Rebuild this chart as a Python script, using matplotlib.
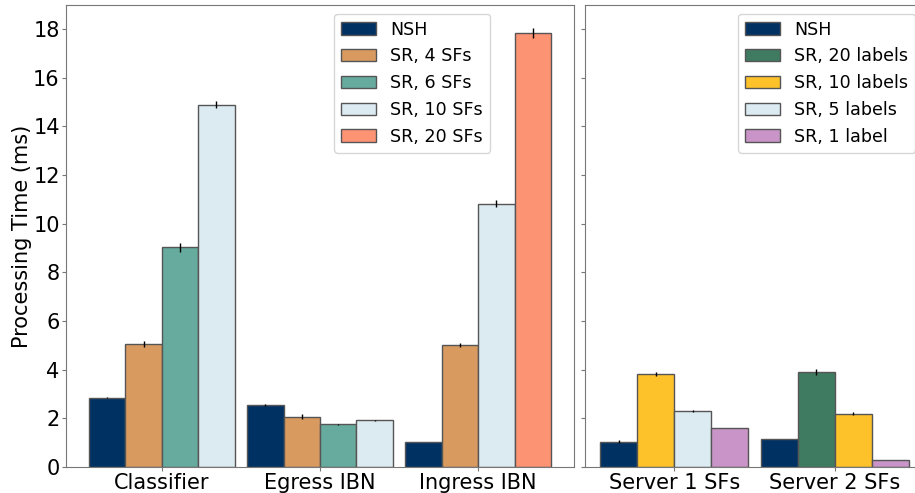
import numpy as np
import matplotlib
matplotlib.use('Agg')
import matplotlib.pyplot as plt

# left panel
groups_left = ["Classifier", "Egress IBN", "Ingress IBN"]
nsh_left = [2.85, 2.54, 1.04]
nsh_left_err = [0.03, 0.03, 0.0]
sr4 = [5.07, 2.07, 5.03]
sr4_err = [0.12, 0.1, 0.08]
# Classifier and Egress have SR 6 SFs; Ingress has SR 20 SFs in the last slot
sr6 = [9.03, 1.75]
sr6_err = [0.18, 0.03]
sr10 = [14.89, 1.92, 10.82]
sr10_err = [0.15, 0.03, 0.14]
sr20 = [17.84]
sr20_err = [0.2]

# right panel
groups_right = ["Server 1 SFs", "Server 2 SFs"]
nsh_right = [1.04, 1.16]
nsh_right_err = [0.05, 0.0]
lab20 = [3.89]
lab20_err = [0.12]
lab10 = [3.82, 2.19]
lab10_err = [0.08, 0.07]
lab5 = [2.29]
lab5_err = [0.04]
lab1 = [1.59, 0.29]
lab1_err = [0.0, 0.0]

c_nsh = '#003163'
c_sr4 = '#d99a5f'
c_sr6 = '#67ab9e'
c_sr10 = '#dcebf2'
c_sr20 = '#fc9373'
c_l20 = '#3f7b61'
c_l10 = '#fdc12a'
c_l5 = '#dcebf2'
c_l1 = '#c994c7'

w = 0.23
ec = '#555555'
ekw = dict(ecolor='black', elinewidth=1, capsize=0)

fig = plt.figure(figsize=(9.15, 4.93), dpi=100)
ax1 = fig.add_axes([0.0721, 0.0527, 0.5552, 0.9372])
ax2 = fig.add_axes([0.6394, 0.0527, 0.3706, 0.9372], sharey=ax1)

x = np.arange(len(groups_left))
off = np.array([-1.5, -0.5, 0.5, 1.5]) * w
ax1.bar(x + off[0], nsh_left, w, yerr=nsh_left_err, color=c_nsh, edgecolor=ec, label='NSH', error_kw=ekw)
ax1.bar(x + off[1], sr4, w, yerr=sr4_err, color=c_sr4, edgecolor=ec, label='SR, 4 SFs', error_kw=ekw)
ax1.bar(x[:2] + off[2], sr6, w, yerr=sr6_err, color=c_sr6, edgecolor=ec, label='SR, 6 SFs', error_kw=ekw)
ax1.bar(x[:2] + off[3], sr10[:2], w, yerr=sr10_err[:2], color=c_sr10, edgecolor=ec, label='SR, 10 SFs', error_kw=ekw)
ax1.bar(x[2:] + off[2], sr10[2:], w, yerr=sr10_err[2:], color=c_sr10, edgecolor=ec, error_kw=ekw)
ax1.bar(x[2:] + off[3], sr20, w, yerr=sr20_err, color=c_sr20, edgecolor=ec, label='SR, 20 SFs', error_kw=ekw)
ax1.set_xticks(x)
ax1.set_xticklabels(groups_left)
ax1.set_ylabel('Processing Time (ms)', fontsize=15, labelpad=1)
ax1.set_ylim(0, 18.98)
ax1.set_yticks(np.arange(0, 19, 2))
ax1.legend(fontsize=12.6, loc='upper right', bbox_to_anchor=(0.852, 1.0))

xr = np.arange(len(groups_right))
ax2.bar(xr + off[0], nsh_right, w, yerr=nsh_right_err, color=c_nsh, edgecolor=ec, label='NSH', error_kw=ekw)
ax2.bar(xr[1:] + off[1], lab20, w, yerr=lab20_err, color=c_l20, edgecolor=ec, label='SR, 20 labels', error_kw=ekw)
ax2.bar(xr[:1] + off[1], lab10[:1], w, yerr=lab10_err[:1], color=c_l10, edgecolor=ec, label='SR, 10 labels', error_kw=ekw)
ax2.bar(xr[1:] + off[2], lab10[1:], w, yerr=lab10_err[1:], color=c_l10, edgecolor=ec, error_kw=ekw)
ax2.bar(xr[:1] + off[2], lab5, w, yerr=lab5_err, color=c_l5, edgecolor=ec, label='SR, 5 labels', error_kw=ekw)
ax2.bar(xr + off[3], lab1, w, yerr=lab1_err, color=c_l1, edgecolor=ec, label='SR, 1 label', error_kw=ekw)
ax2.set_xticks(xr)
ax2.set_xticklabels(groups_right)
ax2.tick_params(axis='y', labelleft=False)
ax2.legend(fontsize=12.6, loc='upper right')

for ax in (ax1, ax2):
    ax.tick_params(axis='x', labelsize=15, length=3, pad=1, color='#777777')
    ax.tick_params(axis='y', labelsize=15, length=3, pad=1.5, color='#777777')
    for s in ax.spines.values():
        s.set_color('#777777')

fig.savefig('out.png', dpi=100)
